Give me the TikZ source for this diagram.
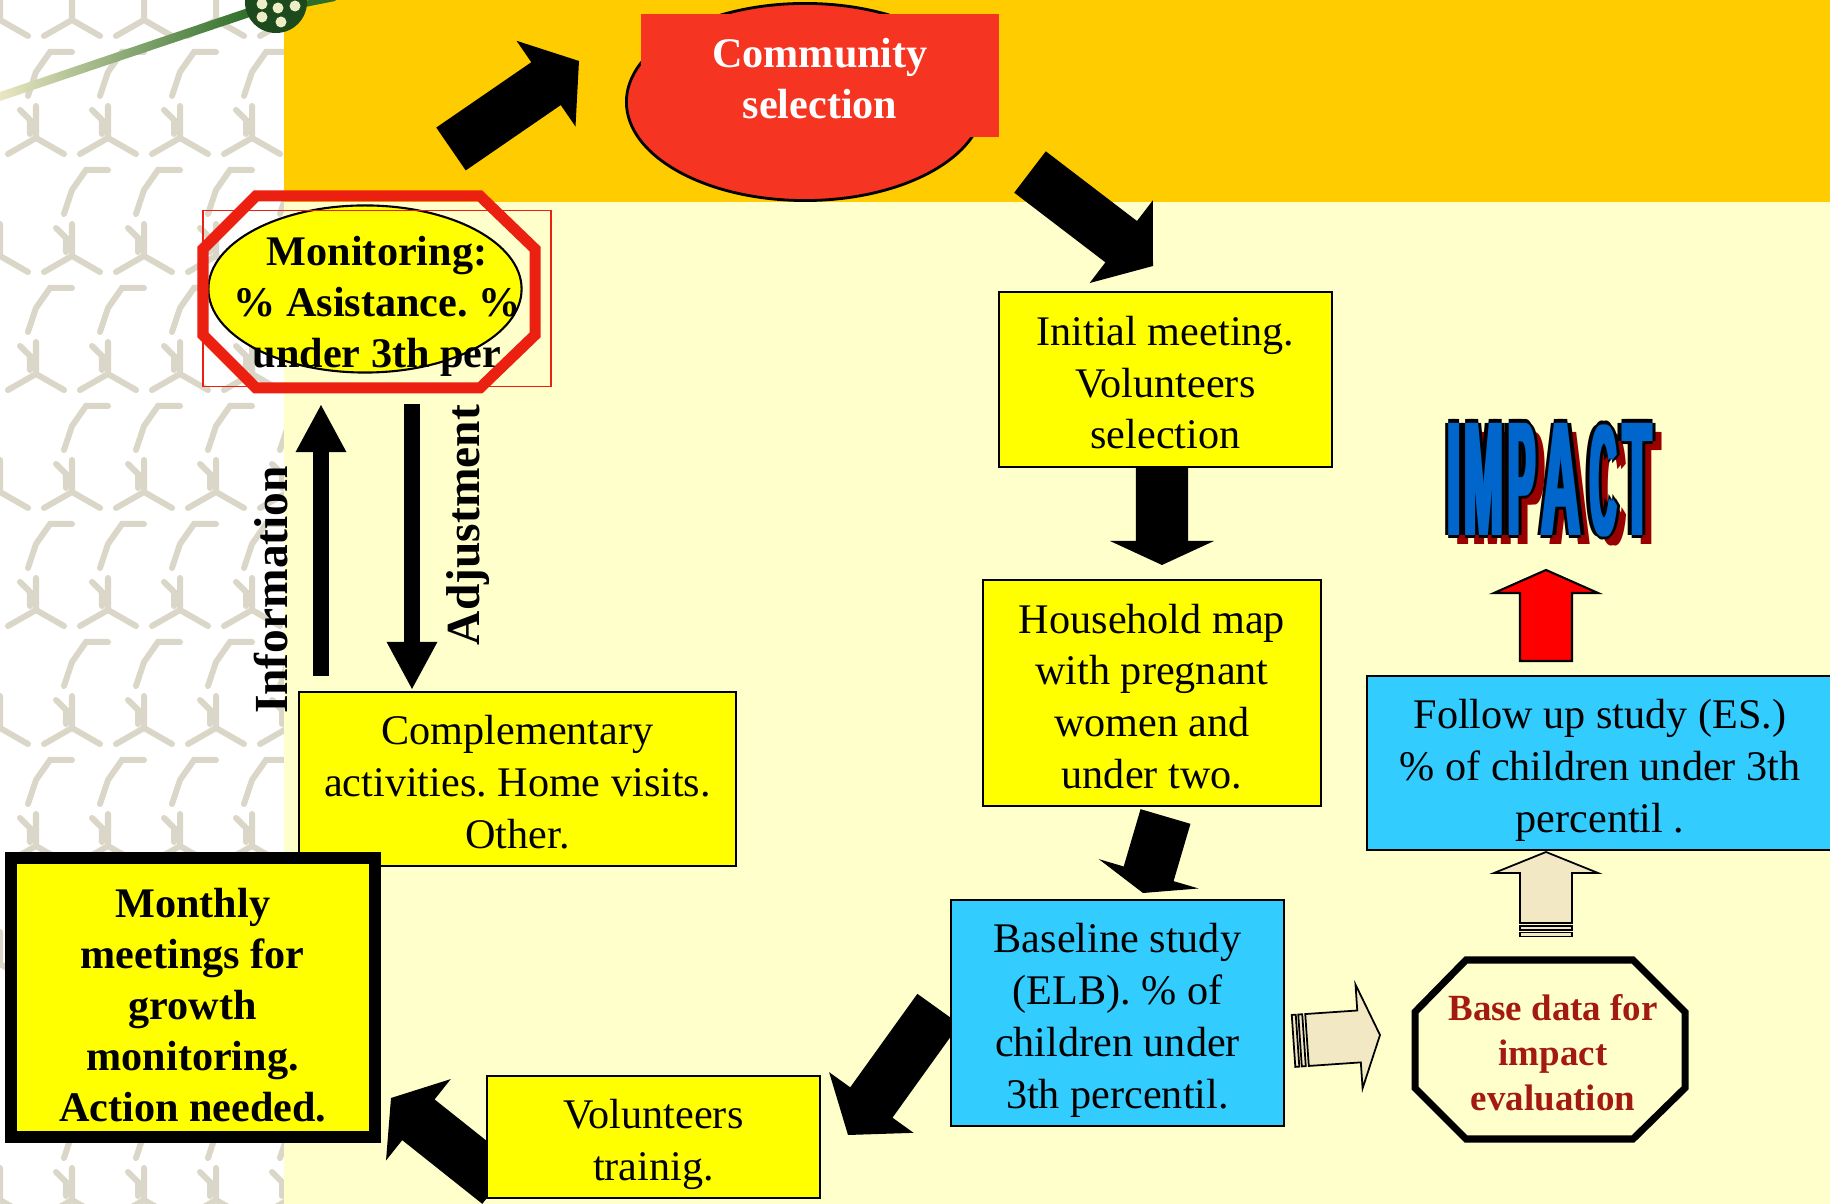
\documentclass[tikz,border=0pt]{standalone}
\usepackage{fontspec}
\setmainfont{Liberation Serif}
\newfontfamily\impactfont{Liberation Sans}
\usepackage{graphicx}
\usepackage{tikz}
\usetikzlibrary{arrows.meta, positioning, shapes.geometric, calc}
\frenchspacing

\definecolor{bandorange}{HTML}{FFCC00}
\definecolor{paleyellow}{HTML}{FFFFCC}
\definecolor{boxyellow}{HTML}{FFFF00}
\definecolor{boxcyan}{HTML}{33CCFF}
\definecolor{commred}{HTML}{F53421}
\definecolor{octred}{HTML}{EB2010}
\definecolor{beige}{HTML}{F2E8C4}
\definecolor{darkred}{HTML}{A31A10}
\definecolor{impactblue}{HTML}{0066CC}
\definecolor{impactshadow}{HTML}{990000}
\definecolor{patgrey}{HTML}{DAD7C8}
\definecolor{decogreen}{HTML}{2F6E2A}
\definecolor{decopale}{HTML}{E9E6C2}
\definecolor{balldark}{HTML}{1D4A1C}
\definecolor{balldot}{HTML}{EDEDC8}

% block arrow: [style]{tail}{tip}{head length}
\newcommand{\blockarrow}[4][]{%
  \coordinate (ba-h) at ($(#3)!#4!(#2)$);
  \path[#1] ($(#2)!0.26cm!90:(#3)$) -- ($(ba-h)!0.26cm!90:(#3)$) -- ($(ba-h)!0.52cm!90:(#3)$) -- (#3)
    -- ($(ba-h)!0.52cm!-90:(#3)$) -- ($(ba-h)!0.26cm!-90:(#3)$) -- ($(#2)!0.26cm!-90:(#3)$) -- cycle;
}
% two bands behind the tail of a striped arrow
\newcommand{\tailstripes}[2]{%
  \foreach \ta/\tb in {0.03cm/0.07cm, 0.095cm/0.135cm}{
    \coordinate (ts-a) at ($(#1)!\ta!180:(#2)$);
    \coordinate (ts-b) at ($(#1)!\tb!180:(#2)$);
    \path[beigearrow] ($(ts-a)!0.26cm!90:(#2)$) -- ($(ts-b)!0.26cm!90:(#2)$)
      -- ($(ts-b)!0.26cm!-90:(#2)$) -- ($(ts-a)!0.26cm!-90:(#2)$) -- cycle;
  }}
% struts for the first and last line of a box (slide font ascent / descent)
\newcommand{\topstrut}{\rule{0pt}{1.05em}}
\newcommand{\botstrut}{\rule[-0.216em]{0pt}{0.216em}}
% one tall narrow letter of IMPACT
\newcommand{\impletter}[2]{\resizebox*{#1}{1.12cm}{\impactfont\bfseries #2}}
\newcommand{\impactword}{\impletter{0.133cm}{I}\kern0.0315cm\impletter{0.388cm}{M}\kern0.054cm\impletter{0.27cm}{P}\kern0.0645cm\impletter{0.391cm}{A}\kern0.094cm\impletter{0.261cm}{C}\kern0.0645cm\impletter{0.28cm}{T}}

\begin{document}
\begin{tikzpicture}[
  x=0.01cm, y=-0.01cm,
  every node/.style={inner sep=0pt},
  boxstep/.style={draw=black, line width=0.6pt, align=center, font=\fontsize{12}{14.7}\selectfont},
  boldstep/.style={align=center, font=\fontsize{12}{14.5}\selectfont\bfseries},
  sidelabel/.style={rotate=90, font=\fontsize{13.5}{16}\selectfont\bfseries},
  blkarrow/.style={fill=black},
  thinarrow/.style={-{Triangle[length=0.48cm, width=0.47cm]}, line width=0.16cm},
  beigearrow/.style={fill=beige, draw=black, line width=0.5pt},
  patline/.style={draw=patgrey, line width=0.06cm, line cap=round},
]
\useasboundingbox (0,0) rectangle (1830,1204);

% Background: patterned strip, orange band, pale area
\fill[white] (0,0) rectangle (284,1204);
\begin{scope}
  \clip (0,0) rectangle (284,1204);
  \foreach \row in {0,...,10}{
    \foreach \col in {0,...,4}{
      \pgfmathsetmacro{\cx}{\col*72+mod(\row,2)*36}
      \pgfmathsetmacro{\cy}{\row*118+20}
      \draw[patline] (\cx,\cy) -- ++(0,-32) (\cx,\cy) -- ++(28,16) (\cx,\cy) -- ++(-28,16);
      \draw[patline] (\cx+36,\cy+52) -- ++(14,-20) -- ++(22,0) (\cx+36,\cy+52) -- ++(-8,24);
      \draw[patline] (\cx+20,\cy+90) -- ++(10,10) -- ++(0,14);
    }
  }
\end{scope}
\fill[bandorange] (284,0) rectangle (1830,202);
\fill[paleyellow] (284,202) rectangle (1830,1204);

% Green line with ball
\shade[left color=decopale, right color=decogreen] (0,92) -- (248,8) -- (250,17) -- (0,101) -- cycle;
\draw[decogreen, line width=0.06cm] (295,6) -- (335,-2);
\node[circle, fill=balldark, minimum size=0.62cm] (ball) at (276,2) {};
\foreach \dx/\dy in {-14/2, 2/6, 19/4, -14/15, 5/20}
  \fill[balldot] ($(ball)+(\dx,\dy)$) circle (0.055cm);

% Big black arrows round the cycle
\coordinate (a1s) at (451,149);    \coordinate (a1e) at (579,61);
\coordinate (a2s) at (1030,172);   \coordinate (a2e) at (1153,266);
\coordinate (a3s) at (1162,467);   \coordinate (a3e) at (1162,565);
\coordinate (a4s) at (1165.5,816.5); \coordinate (a4e) at (1143,893);
\coordinate (a5s) at (938.5,1009); \coordinate (a5e) at (848,1135);
\coordinate (a6s) at (498.5,1183.5); \coordinate (a6e) at (391,1098);
\blockarrow[blkarrow]{a1s}{a1e}{0.40cm}
\blockarrow[blkarrow]{a2s}{a2e}{0.40cm}
\blockarrow[blkarrow]{a3s}{a3e}{0.24cm}
\blockarrow[blkarrow]{a4s}{a4e}{0.20cm}
\blockarrow[blkarrow]{a5s}{a5e}{0.40cm}
\blockarrow[blkarrow]{a6s}{a6e}{0.35cm}

% Community selection
\node[ellipse, fill=commred, draw=black, line width=0.8pt, minimum width=3.57cm, minimum height=1.97cm] (commell) at (805,102) {};
\node[boldstep, fill=commred, text=white, minimum width=3.58cm, minimum height=1.23cm] (comm) at (820,75.5) {\topstrut Community\\selection\botstrut};

% Monitoring
\node[ellipse, draw=black, line width=0.6pt, fill=boxyellow, minimum width=3.13cm, minimum height=1.67cm] (monell) at (365,289) {};
\draw[octred, line width=0.11cm] (256,196) -- (480,196) -- (535,249) -- (535,335) -- (480,388) -- (256,388) -- (203,335) -- (203,249) -- cycle;
\node[boldstep, draw=octred, line width=0.4pt, minimum width=3.48cm, minimum height=1.76cm] (monit) at (377,298.7) {\topstrut Monitoring:\\\% Asistance. \%\\under 3th per\botstrut};

% Information / Adjustment
\coordinate (infos) at (321,676); \coordinate (infoe) at (321,404);
\coordinate (adjs) at (412,404);  \coordinate (adje) at (412,690);
\draw[thinarrow] (infos) -- (infoe);
\draw[thinarrow] (adjs) -- (adje);
\node[sidelabel] (info) at (271,590) {Information};
\node[sidelabel] (adjust) at (468,525) {Adjustment};

% Boxes
\node[boxstep, fill=boxyellow, minimum width=4.37cm, minimum height=1.74cm] (compl) at (517.5,779) {\topstrut Complementary\\activities. Home visits.\\Other.\botstrut};
\node[boldstep, draw=black, line width=0.12cm, fill=boxyellow, minimum width=3.635cm, minimum height=2.785cm] (monthly) at (192.75,997.25) {\topstrut Monthly\\meetings for\\growth\\monitoring.\\Action needed.};
\node[boxstep, fill=boxyellow, minimum width=3.33cm, minimum height=1.22cm] (voltrain) at (653.5,1137) {\topstrut Volunteers\\trainig.\botstrut};
\node[boxstep, fill=boxyellow, minimum width=3.33cm, minimum height=1.75cm] (initmeet) at (1165.5,379.5) {\topstrut Initial meeting.\\Volunteers\\selection\botstrut};
\node[boxstep, fill=boxyellow, minimum width=3.38cm, minimum height=2.26cm, below=1.107cm of initmeet, xshift=-0.135cm] (household) {\topstrut Household map\\with pregnant\\women and\\under two.\botstrut};
\node[boxstep, fill=boxcyan, minimum width=3.33cm, minimum height=2.26cm, below=0.916cm of household, xshift=-0.345cm] (baseline) {\topstrut Baseline study\\(ELB). \% of\\children under\\3th percentil.\botstrut};
\node[boxstep, fill=boxcyan, minimum width=4.66cm, minimum height=1.74cm] (followup) at (1600,763) {\topstrut Follow up study (ES.)\\\% of children under 3th\\percentil .\botstrut};

% Base data for impact evaluation
\draw[line width=0.07cm, fill=paleyellow] (1466,960) -- (1633,960) -- (1685,1012) -- (1685,1088) -- (1633,1139) -- (1466,1139) -- (1415,1088) -- (1415,1012) -- cycle;
\node[align=center, text=darkred, font=\fontsize{10.5}{12.8}\selectfont\bfseries] (basedata) at (1553,1050) {\topstrut Base data for\\impact\\evaluation\botstrut};

% Striped arrows to and from base data
\coordinate (brs) at (1307,1040);  \coordinate (bre) at (1380,1035);
\coordinate (bus) at (1546,923);   \coordinate (bue) at (1546,852);
\tailstripes{brs}{bre}
\blockarrow[beigearrow]{brs}{bre}{0.21cm}
\tailstripes{bus}{bue}
\blockarrow[beigearrow]{bus}{bue}{0.21cm}

% IMPACT
\coordinate (reds) at (1546,661);  \coordinate (rede) at (1546,570);
\blockarrow[fill=red, draw=black, line width=0.6pt]{reds}{rede}{0.23cm}
\coordinate (impact) at (1549.4,480);
\foreach \dx in {7,11}
  \node[text=impactshadow] at ($(impact)+(\dx,9)$) {\impactword};
\foreach \dx/\dy in {-5.5/0, 5.5/0, -2/-3.5, 2/-3.5, -2/3.5, 2/3.5}
  \node[text=black] at ($(impact)+(\dx,\dy)$) {\impactword};
\foreach \dx in {-2,2}
  \node[text=impactblue] at ($(impact)+(\dx,0)$) {\impactword};
\node[text=impactblue] (impactword) at (impact) {\impactword};

\end{tikzpicture}
\end{document}
